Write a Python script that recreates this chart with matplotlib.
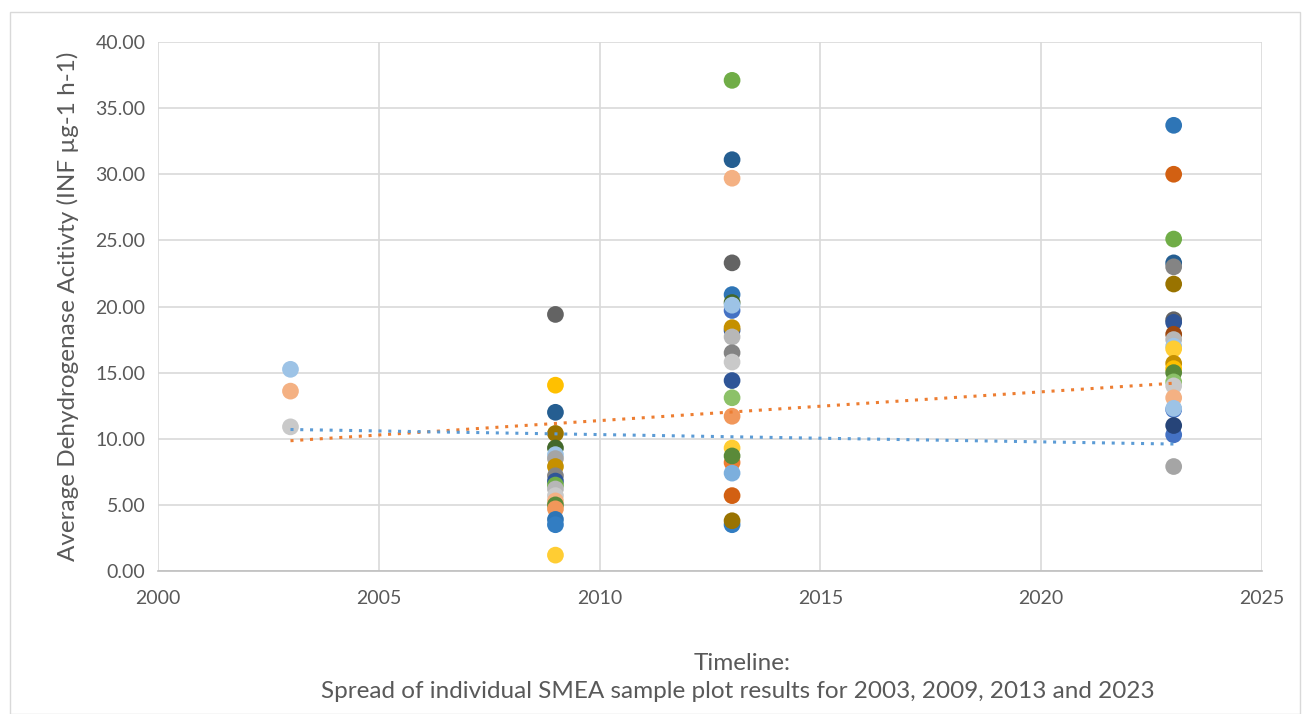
import matplotlib.pyplot as plt
from matplotlib.patches import Rectangle

# ---------------- data ----------------
years_2003 = [2003] * 3
vals_2003 = [15.25, 13.6, 10.9]
cols_2003 = ['#9DC3E6', '#F4B183', '#C9C9C9']

vals_2009 = [19.4, 14.05, 12.0, 10.4, 9.3, 8.8, 8.5, 7.9, 7.2, 6.8, 6.5, 6.2,
             5.7, 5.3, 5.0, 4.7, 3.9, 3.5, 1.2]
cols_2009 = ['#636363', '#FFC000', '#255E91', '#997300', '#43682B', '#9DC3E6',
             '#A5A5A5', '#C59000', '#848484', '#2F5597', '#70AD47', '#B7B7B7',
             '#C9C9C9', '#F4B183', '#5A8A39', '#F1975A', '#2E75B6', '#327DC2',
             '#FFCD33']

vals_2013 = [37.1, 31.1, 29.7, 23.3, 20.9, 20.3, 19.7, 20.1, 18.2, 18.4, 17.7,
             16.5, 15.8, 14.4, 13.1, 11.7, 9.3, 8.2, 8.7, 7.4, 5.7, 3.5, 3.8]
cols_2013 = ['#70AD47', '#255E91', '#F4B183', '#636363', '#2E75B6', '#43682B',
             '#4472C4', '#9DC3E6', '#2F5597', '#C59000', '#B7B7B7', '#848484',
             '#C9C9C9', '#2F5597', '#8CC168', '#F1975A', '#FFCD33', '#ED7D31',
             '#5A8A39', '#7CAFDD', '#D26012', '#327DC2', '#997300']

vals_2023 = [33.7, 30.0, 25.1, 23.3, 23.0, 21.7, 19.0, 18.8, 17.9, 17.5, 17.0,
             16.8, 15.7, 15.3, 15.0, 14.3, 14.0, 13.1, 12.2, 12.3, 10.3, 11.0, 7.9]
cols_2023 = ['#2E75B6', '#D26012', '#70AD47', '#255E91', '#848484', '#997300',
             '#636363', '#2F5597', '#9E480E', '#B7B7B7', '#9DC3E6', '#FFCD33',
             '#C59000', '#FFC000', '#5A8A39', '#8CC168', '#C9C9C9', '#F4B183',
             '#4472C4', '#9DC3E6', '#4472C4', '#264478', '#A5A5A5']

trend_years = [2003, 2023]
trend_orange = [9.85, 14.2]
trend_blue = [10.7, 9.6]

xticks = [2000, 2005, 2010, 2015, 2020, 2025]
yticks = [0, 5, 10, 15, 20, 25, 30, 35, 40]
# ---------------------------------------------------------

plt.rcParams['font.family'] = ['Lato', 'DejaVu Sans']
txt = '#595959'

fig = plt.figure(figsize=(13.04, 7.14), dpi=100)
fig.patches.append(Rectangle((10 / 1304, 0), 1290 / 1304, 1 - 12 / 714,
                             transform=fig.transFigure, fill=False,
                             edgecolor='#D9D9D9', linewidth=1))
ax = fig.add_axes([158 / 1304, 1 - 571 / 714, 1104 / 1304, 529 / 714])

groups = [(2003, vals_2003, cols_2003), (2009, vals_2009, cols_2009),
          (2013, vals_2013, cols_2013), (2023, vals_2023, cols_2023)]
for yr, vals, cols in groups:
    ax.scatter([yr] * len(vals), vals, s=145, c=cols, zorder=3, linewidths=0)

ax.plot(trend_years, trend_orange, linestyle=(0, (1, 2.2)), color='#ED7D31',
        linewidth=2.2, zorder=4)
ax.plot(trend_years, trend_blue, linestyle=(0, (1, 2.2)), color='#5B9BD5',
        linewidth=2.2, zorder=4)

ax.set_xlim(2000, 2025)
ax.set_ylim(0, 40)
ax.set_xticks(xticks)
ax.set_yticks(yticks)
ax.set_yticklabels(['%.2f' % v for v in yticks])
ax.grid(True, color='#D9D9D9', linewidth=1.2)
ax.set_axisbelow(True)
for s in ['top', 'right', 'left']:
    ax.spines[s].set_visible(False)
ax.spines['bottom'].set_color('#BFBFBF')
ax.spines['bottom'].set_linewidth(1.2)
ax.tick_params(length=0, labelsize=14, colors=txt, pad=9)
ax.tick_params(axis='x', pad=14)

ax.set_ylabel('Average Dehydrogenase Acitivty (INF µg-1 h-1)', fontsize=17.5,
              color=txt, labelpad=12)
fig.text(742 / 1304, 1 - 663 / 714, 'Timeline:', ha='center', va='center',
         fontsize=17.5, color=txt)
fig.text(738 / 1304, 1 - 691 / 714,
         'Spread of individual SMEA sample plot results for 2003, 2009, 2013 and 2023',
         ha='center', va='center', fontsize=17.5, color=txt)

fig.savefig('out.png', dpi=100)
